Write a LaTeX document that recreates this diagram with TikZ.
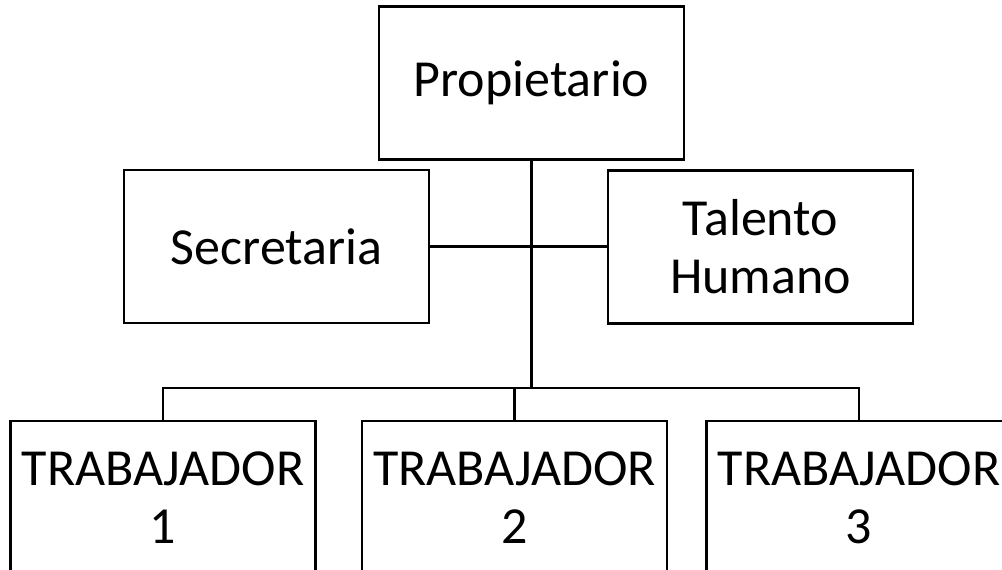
\documentclass[tikz,border=0pt]{standalone}
\usepackage{fontspec}
\setmainfont{Carlito}
\begin{document}
\begin{tikzpicture}[x=1pt,y=-1pt,
		caja/.style={draw,line width=2.5pt,minimum width=305pt,minimum height=153pt,
			inner sep=0pt,align=center,font=\fontsize{52}{58}\selectfont},
		linea/.style={line width=2.5pt}]
	\useasboundingbox (0,0) rectangle (1002,570);
	\clip (0,0) rectangle (1002,570);
	\node (prop) [caja] at (531.5,83) {Propietario};
	\node (secre) [caja] at (276.5,246.5) {Secretaria};
	\node (talento) [caja] at (760.5,247) {Talento\\Humano};
	\node (trab1) [caja] at (163,497.5) {TRABAJADOR\\1};
	\node (trab2) [caja] at (514.5,497.5) {TRABAJADOR\\2};
	\node (trab3) [caja] at (859,497.5) {TRABAJADOR\\3};
	\coordinate (barra) at (531.5,388);
	\draw [linea] (prop.south) -- (barra);
	\draw [linea] (secre.east) -- (secre.east -| talento.west);
	\draw [linea] (trab1.north) |- (barra) -| (trab3.north);
	\draw [linea] (trab2.north) -- (trab2.north |- barra);
\end{tikzpicture}
\end{document}
